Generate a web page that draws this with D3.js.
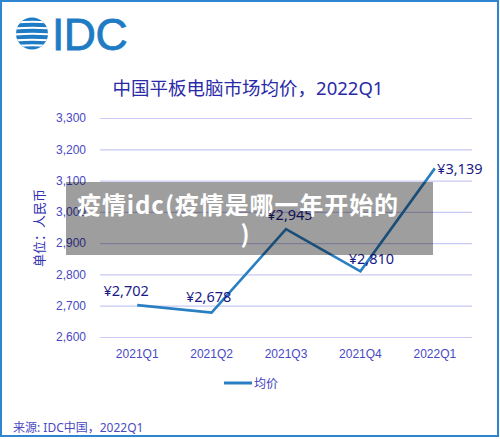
<!DOCTYPE html>
<html>
<head>
<meta charset="utf-8">
<script src="https://cdn.jsdelivr.net/npm/d3@7"></script>
<style>
  html, body { margin: 0; padding: 0; background: #fff; }
  svg { display: block; font-family: "Noto Sans", "Noto Sans CJK SC", sans-serif; }
</style>
</head>
<body>
<div id="chart"></div>
<script>
// chart data
var quarters = ["2021Q1", "2021Q2", "2021Q3", "2021Q4", "2022Q1"];
var avgPrice = [2702, 2678, 2945, 2810, 3139];
var yTicks = [2600, 2700, 2800, 2900, 3000, 3100, 3200, 3300];
var seriesName = "均价";
var title = "中国平板电脑市场均价，2022Q1";
var yLabel = "单位：人民币";
var source = "来源: IDC中国，2022Q1";
var overlayLines = ["疫情idc(疫情是哪一年开始的", ")"];

// label nudges, per point (dx, dy from the point)
var labelShift = [[-11, -9], [-3, -11], [4, -9], [11, -7], [25, 6]];

var width = 500, height = 439;
var plotLeft = 100, plotRight = 472, plotTop = 118, plotBottom = 337;

var svg = d3.select("#chart").append("svg")
    .attr("width", width)
    .attr("height", height);

svg.append("rect")
    .attr("width", width).attr("height", height)
    .attr("fill", "#fff");

// frame
svg.append("rect")
    .attr("x", 1).attr("y", 1)
    .attr("width", 497).attr("height", 435)
    .attr("fill", "none")
    .attr("stroke", "#2f86d0")
    .attr("stroke-width", 2);

// IDC logo
var logo = svg.append("g");
var defs = svg.append("defs");
defs.append("clipPath").attr("id", "globe")
    .append("circle").attr("cx", 32).attr("cy", 33.5).attr("r", 16);
var globe = logo.append("g").attr("clip-path", "url(#globe)");
globe.append("rect")
    .attr("x", 14).attr("y", 16).attr("width", 36).attr("height", 36)
    .attr("fill", "#1f7bc4");
[22.5, 28.5, 34.5, 40.5, 46].forEach(function(y, i) {
    globe.append("path")
        .attr("d", "M14," + y + " Q32," + (y - 1.5) + " 52," + y)
        .attr("stroke", "#fff")
        .attr("stroke-width", 2.2)
        .attr("fill", "none");
});
logo.append("text")
    .attr("x", 52).attr("y", 50)
    .attr("font-family", "Liberation Sans, Arial, sans-serif")
    .attr("font-size", 44.5)
    .attr("fill", "#1f7bc4")
    .attr("stroke", "#1f7bc4")
    .attr("stroke-width", 0.8)
    .attr("letter-spacing", -0.5)
    .text("IDC");

// title
svg.append("text")
    .attr("x", 248).attr("y", 95)
    .attr("text-anchor", "middle")
    .attr("font-size", 18.5)
    .attr("fill", "#2a2aa8")
    .text(title);

var x = d3.scaleBand()
    .domain(quarters)
    .range([plotLeft, plotRight]);

var y = d3.scaleLinear()
    .domain([2600, 3300])
    .range([plotBottom, plotTop]);

// grid + y ticks
var yAxis = d3.axisLeft(y)
    .tickValues(yTicks)
    .tickSize(-(plotRight - plotLeft))
    .tickPadding(14)
    .tickFormat(d3.format(","));

var gy = svg.append("g")
    .attr("transform", "translate(" + plotLeft + ",0)")
    .call(yAxis);
gy.select(".domain").remove();
gy.selectAll("line").attr("stroke", "#c9c9f4").attr("stroke-width", 1.2);
gy.selectAll("text")
    .attr("font-size", 12)
    .attr("fill", "#4848c4");

// x labels
var xAxis = d3.axisBottom(x).tickSize(0).tickPadding(12);
var gx = svg.append("g")
    .attr("transform", "translate(0," + plotBottom + ")")
    .call(xAxis);
gx.select(".domain").remove();
gx.selectAll("text")
    .attr("font-size", 12)
    .attr("fill", "#4848c4");

// y label
svg.append("text")
    .attr("transform", "translate(44,228) rotate(-90)")
    .attr("text-anchor", "middle")
    .attr("font-size", 13)
    .attr("fill", "#3030b0")
    .text(yLabel);

// line
var pts = quarters.map(function(q, i) { return { q: q, v: avgPrice[i] }; });
var line = d3.line()
    .x(function(d) { return x(d.q) + x.bandwidth() / 2; })
    .y(function(d) { return y(d.v); });

svg.append("path")
    .datum(pts)
    .attr("d", line)
    .attr("fill", "none")
    .attr("stroke", "#2a7fc2")
    .attr("stroke-width", 2.6)
    .attr("stroke-linejoin", "miter");

svg.selectAll(".lbl")
    .data(pts)
    .enter().append("text")
    .attr("class", "lbl")
    .attr("x", function(d, i) { return x(d.q) + x.bandwidth() / 2 + labelShift[i][0]; })
    .attr("y", function(d, i) { return y(d.v) + labelShift[i][1]; })
    .attr("text-anchor", "middle")
    .attr("font-size", 14.5)
    .attr("fill", "#1a1a86")
    .text(function(d) { return "¥" + d3.format(",")(d.v); });

// legend
svg.append("line")
    .attr("x1", 224).attr("x2", 252)
    .attr("y1", 383).attr("y2", 383)
    .attr("stroke", "#2a7fc2")
    .attr("stroke-width", 3);
svg.append("text")
    .attr("x", 254).attr("y", 388)
    .attr("font-size", 12)
    .attr("fill", "#4040c0")
    .text(seriesName);

// source
svg.append("text")
    .attr("x", 13).attr("y", 432)
    .attr("font-size", 12)
    .attr("fill", "#4a4ac4")
    .text(source);

// grey caption band over the chart
svg.append("rect")
    .attr("x", 66).attr("y", 182)
    .attr("width", 367).attr("height", 73)
    .attr("fill", "#000")
    .attr("fill-opacity", 0.38);
svg.append("text")
    .attr("x", 77).attr("y", 214)
    .attr("font-size", 24)
    .attr("font-weight", "bold")
    .attr("letter-spacing", 0.9)
    .attr("font-family", "Noto Sans CJK SC, sans-serif")
    .attr("fill", "#fff")
    .text(overlayLines[0]);
svg.append("text")
    .attr("x", 245).attr("y", 243)
    .attr("text-anchor", "middle")
    .attr("font-size", 24)
    .attr("font-weight", "bold")
    .attr("font-family", "Noto Sans CJK SC, sans-serif")
    .attr("fill", "#fff")
    .text(overlayLines[1]);
</script>
</body>
</html>
